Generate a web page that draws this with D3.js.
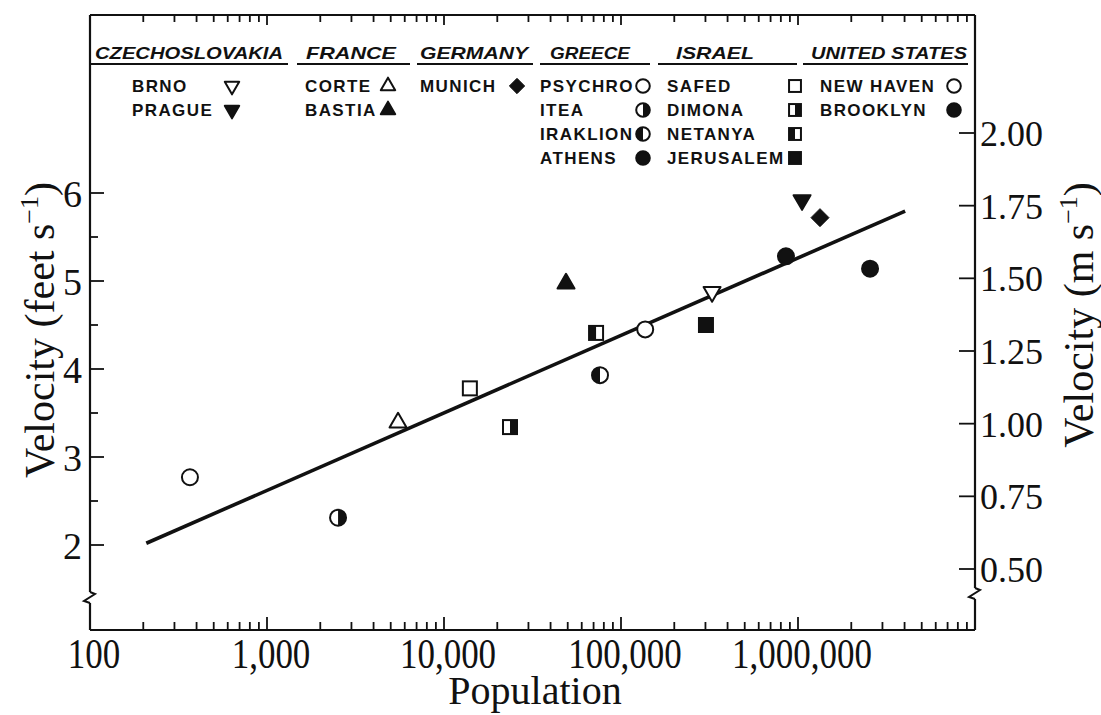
<!DOCTYPE html>
<html>
<head>
<meta charset="utf-8">
<script src="https://cdn.jsdelivr.net/npm/d3@7"></script>
<style>
  html, body { margin: 0; padding: 0; background: #fff; }
  svg { display: block; }
</style>
</head>
<body>
<svg id="chart" width="1101" height="715"></svg>
<script>
// ---------------- DATA ----------------
const cities     = ["Psychro","Itea","Corte","Safed","Dimona","Bastia","Netanya","Iraklion","New Haven","Jerusalem","Brno","Athens","Prague","Munich","Brooklyn"];
const population = [367, 2520, 5500, 14000, 23600, 48900, 72300, 76100, 137000, 302000, 327000, 855000, 1054000, 1331000, 2553000];
const velocity   = [2.77, 2.31, 3.39, 3.78, 3.34, 4.97, 4.41, 3.93, 4.45, 4.50, 4.875, 5.28, 5.92, 5.72, 5.14];
const markerType = ["circleOpen","circleRight","triUpOpen","squareOpen","squareRight","triUpFilled","squareLeft","circleLeft","circleOpen","squareFilled","triDownOpen","circleFilled","triDownFilled","diamond","circleFilled"];

const countries = ["CZECHOSLOVAKIA","FRANCE","GERMANY","GREECE","ISRAEL","UNITED STATES"];
const countryCities = [
  ["Brno","Prague"],
  ["Corte","Bastia"],
  ["Munich"],
  ["Psychro","Itea","Iraklion","Athens"],
  ["Safed","Dimona","Netanya","Jerusalem"],
  ["New Haven","Brooklyn"]
];

const fitPopulation = [208, 4030000];
const fitVelocity   = [2.02, 5.795];

const xTickValues  = [100, 1000, 10000, 100000, 1000000];
const xTickLabels  = ["100","1,000","10,000","100,000","1,000,000"];
const yFtTicks     = [2, 3, 4, 5, 6];
const yFtMinor     = [2.5, 3.5, 4.5, 5.5];
const yMTicks      = [0.50, 0.75, 1.00, 1.25, 1.50, 1.75, 2.00];

// ---------------- LAYOUT ----------------
const L = 90, R = 975, T = 15, B = 630;
const svg = d3.select("#chart");
const serif = "'Liberation Serif','Times New Roman',serif";
const sans  = "'Liberation Sans',Arial,sans-serif";
const ink = "#111";

const x  = d3.scaleLog().domain([100, 1e7]).range([L, R]);
const yF = d3.scaleLinear().domain([2, 6]).range([545, 193]);
const yM = d3.scaleLinear().domain([0.5, 2.0]).range([569, 133]);

// frame
const frame = svg.append("g").attr("stroke", ink).attr("fill", "none").attr("stroke-width", 2.2);
frame.append("line").attr("x1", L).attr("x2", R).attr("y1", B).attr("y2", B);
frame.append("line").attr("x1", L).attr("x2", R).attr("y1", T).attr("y2", T);
// left axis with break
frame.append("line").attr("x1", L).attr("x2", L).attr("y1", T).attr("y2", 592);
frame.append("line").attr("x1", L).attr("x2", L).attr("y1", 603).attr("y2", B);
frame.append("path").attr("d", `M${L},592 L${L+5},594 L${L-6},601 L${L},603`).attr("stroke-width", 2);
// right axis with break
frame.append("line").attr("x1", R).attr("x2", R).attr("y1", T).attr("y2", 588);
frame.append("line").attr("x1", R).attr("x2", R).attr("y1", 599).attr("y2", B);
frame.append("path").attr("d", `M${R},588 L${R+5},590 L${R-6},597 L${R},599`).attr("stroke-width", 2);

// x ticks (log, minor 2..9)
const allX = [];
for (let d = 100; d < 1e7; d *= 10) {
  for (let k = 1; k <= 9; k++) allX.push({v: d * k, major: k === 1});
}
allX.push({v: 1e7, major: true});
const tk = svg.append("g").attr("stroke", ink).attr("stroke-width", 1.8);
allX.forEach(t => {
  const px = x(t.v);
  if (px <= L + 1 || px >= R - 1) return;
  const len = t.major ? 13 : 8;
  tk.append("line").attr("x1", px).attr("x2", px).attr("y1", B).attr("y2", B - len);
  tk.append("line").attr("x1", px).attr("x2", px).attr("y1", T).attr("y2", T + (t.major ? 10 : 7));
});
// x tick labels
svg.append("g").selectAll("text").data(xTickValues).join("text")
  .attr("transform", (d) => `translate(${x(d) + 4},668) scale(1,1.18)`)
  .attr("text-anchor", "middle")
  .attr("font-family", serif).attr("font-size", 35).attr("fill", ink)
  .text((d, i) => xTickLabels[i]);

// left y ticks
yFtTicks.forEach(v => {
  tk.append("line").attr("x1", L).attr("x2", L + 14).attr("y1", yF(v)).attr("y2", yF(v));
});
yFtMinor.forEach(v => {
  tk.append("line").attr("x1", L).attr("x2", L + 8).attr("y1", yF(v)).attr("y2", yF(v));
});
svg.append("g").selectAll("text").data(yFtTicks).join("text")
  .attr("x", 82).attr("y", d => yF(d)).attr("dy", "0.36em")
  .attr("text-anchor", "end")
  .attr("font-family", serif).attr("font-size", 38).attr("fill", ink)
  .text(d => d);

// right y ticks
yMTicks.forEach(v => {
  tk.append("line").attr("x1", R).attr("x2", R - 16).attr("y1", yM(v)).attr("y2", yM(v));
});
svg.append("g").selectAll("text").data(yMTicks).join("text")
  .attr("x", 980).attr("y", d => yM(d)).attr("dy", "0.36em")
  .attr("font-family", serif).attr("font-size", 36).attr("fill", ink)
  .text(d => d.toFixed(2));

// axis titles
svg.append("text").attr("x", 535).attr("y", 704).attr("text-anchor", "middle")
  .attr("font-family", serif).attr("font-size", 40).attr("fill", ink).text("Population");

function vTitle(cx, cy, unit) {
  const t = svg.append("text")
    .attr("transform", `translate(${cx},${cy}) rotate(-90)`)
    .attr("text-anchor", "middle")
    .attr("font-family", serif).attr("font-size", 42).attr("fill", ink);
  t.append("tspan").text(`Velocity (${unit} s`);
  t.append("tspan").attr("font-size", 26).attr("dy", -16).text("\u22121");
  t.append("tspan").attr("dy", 16).text(")");
}
vTitle(54, 330, "feet");
vTitle(1093, 315, "m");

// regression line
const line = d3.line().x(d => x(d[0])).y(d => yF(d[1]));
svg.append("path")
  .datum(fitPopulation.map((p, i) => [p, fitVelocity[i]]))
  .attr("d", line).attr("fill", "none").attr("stroke", ink).attr("stroke-width", 3.6);

// markers
function drawMarker(g, type, s) {
  const sw = 2;
  const r = 8 * s, sq = 14 * s, a = 17 * s, h = a * Math.sqrt(3) / 2, dm = 9 * s;
  if (type.startsWith("circle")) {
    g.append("circle").attr("r", r)
      .attr("fill", type === "circleFilled" ? ink : "#fff")
      .attr("stroke", ink).attr("stroke-width", sw);
    if (type === "circleRight") g.append("path").attr("d", `M0,${-r} A${r},${r} 0 0 1 0,${r} Z`).attr("fill", ink);
    if (type === "circleLeft")  g.append("path").attr("d", `M0,${-r} A${r},${r} 0 0 0 0,${r} Z`).attr("fill", ink);
  } else if (type.startsWith("square")) {
    g.append("rect").attr("x", -sq/2).attr("y", -sq/2).attr("width", sq).attr("height", sq)
      .attr("fill", type === "squareFilled" ? ink : "#fff")
      .attr("stroke", ink).attr("stroke-width", sw);
    if (type === "squareRight") g.append("rect").attr("x", 0).attr("y", -sq/2).attr("width", sq/2).attr("height", sq).attr("fill", ink);
    if (type === "squareLeft")  g.append("rect").attr("x", -sq/2).attr("y", -sq/2).attr("width", sq/2).attr("height", sq).attr("fill", ink);
  } else if (type.startsWith("triUp")) {
    g.append("path").attr("d", `M0,${-2*h/3} L${a/2},${h/3} L${-a/2},${h/3} Z`)
      .attr("fill", type === "triUpFilled" ? ink : "#fff")
      .attr("stroke", ink).attr("stroke-width", sw).attr("stroke-linejoin", "round");
  } else if (type.startsWith("triDown")) {
    g.append("path").attr("d", `M0,${2*h/3} L${a/2},${-h/3} L${-a/2},${-h/3} Z`)
      .attr("fill", type === "triDownFilled" ? ink : "#fff")
      .attr("stroke", ink).attr("stroke-width", sw).attr("stroke-linejoin", "round");
  } else if (type === "diamond") {
    g.append("path").attr("d", `M0,${-dm} L${dm},0 L0,${dm} L${-dm},0 Z`)
      .attr("fill", ink).attr("stroke", ink).attr("stroke-width", 1);
  }
}

const pts = svg.append("g");
cities.forEach((c, i) => {
  const g = pts.append("g").attr("transform", `translate(${x(population[i])},${yF(velocity[i])})`);
  drawMarker(g, markerType[i], 1);
});

// ---------------- LEGEND ----------------
const headerX   = [95, 306, 420, 550, 676, 811];
const headerW   = [188, 90, 108, 80, 78, 156];
const ulX       = [[90, 288], [297, 410], [417, 533], [540, 650], [658, 797], [803, 968]];
const colTextX  = [132, 305, 420, 540, 667, 820];
const colMarkX  = [232, 388, 517, 643, 795, 954];
const rowY      = [86, 110, 134, 158];

const leg = svg.append("g");
countries.forEach((cn, ci) => {
  leg.append("text").attr("x", headerX[ci]).attr("y", 59)
    .attr("font-family", sans).attr("font-size", 17).attr("font-weight", "bold").attr("font-style", "italic")
    .attr("textLength", headerW[ci]).attr("lengthAdjust", "spacingAndGlyphs")
    .attr("fill", ink).text(cn);
  leg.append("line").attr("x1", ulX[ci][0]).attr("x2", ulX[ci][1]).attr("y1", 64).attr("y2", 64)
    .attr("stroke", ink).attr("stroke-width", 2);
  countryCities[ci].forEach((city, ri) => {
    leg.append("text").attr("x", colTextX[ci]).attr("y", rowY[ri]).attr("dy", "0.36em")
      .attr("font-family", sans).attr("font-size", 17).attr("font-weight", "bold")
      .attr("letter-spacing", 1.4).attr("fill", ink).text(city.toUpperCase());
    const idx = cities.indexOf(city);
    const g = leg.append("g").attr("transform", `translate(${colMarkX[ci]},${rowY[ri]})`);
    drawMarker(g, markerType[idx], 0.85);
  });
});
</script>
</body>
</html>
